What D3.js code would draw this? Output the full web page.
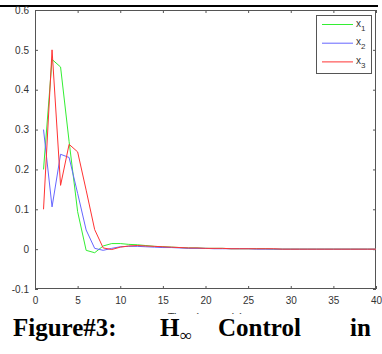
<!DOCTYPE html>
<html>
<head>
<meta charset="utf-8">
<script src="https://cdn.jsdelivr.net/npm/d3@7"></script>
<style>
	body { margin: 0; background: #fff; }
	svg { display: block; }
</style>
</head>
<body>
<div id="chart"><svg width="382" height="354"></svg></div>
<script>
// data, steps 1..40
var steps = [1,2,3,4,5,6,7,8,9,10,11,12,13,14,15,16,17,18,19,20,21,22,23,24,25,26,27,28,29,30,31,32,33,34,35,36,37,38,39,40];
var x1 = [0.2, 0.476, 0.457, 0.27, 0.094, -0.003, -0.009, 0.008, 0.014, 0.014, 0.012, 0.011, 0.009, 0.007, 0.006, 0.005, 0.004, 0.003, 0.003, 0.002, 0.002, 0.002, 0.001, 0.001, 0.001, 0.001, 0.001, 0, 0, 0, 0, 0, 0, 0, 0, 0, 0, 0, 0, 0];
var x2 = [0.3, 0.106, 0.238, 0.23, 0.14, 0.048, 0.002, -0.003, 0.002, 0.006, 0.007, 0.007, 0.006, 0.005, 0.004, 0.004, 0.003, 0.002, 0.002, 0.002, 0.001, 0.001, 0.001, 0.001, 0.001, 0, 0, 0, 0, 0, 0, 0, 0, 0, 0, 0, 0, 0, 0, 0];
var x3 = [0.1, 0.5, 0.16, 0.263, 0.244, 0.148, 0.049, 0.003, -0.001, 0.005, 0.008, 0.009, 0.008, 0.007, 0.006, 0.005, 0.004, 0.003, 0.003, 0.002, 0.002, 0.002, 0.001, 0.001, 0.001, 0.001, 0.001, 0.001, 0, 0, 0, 0, 0, 0, 0, 0, 0, 0, 0, 0];
var seriesNames = ['1', '2', '3'];
var seriesColors = ['#33ee33', '#6666ff', '#ff3333'];
var xTicks = [0, 5, 10, 15, 20, 25, 30, 35, 40];
var yTicks = [-0.1, 0, 0.1, 0.2, 0.3, 0.4, 0.5, 0.6];
var xLabel = 'Time (seconds)';
var captionWords = ['Figure#3:', 'H', 'Control', 'in'];

var svg = d3.select('#chart > svg');
var plotL = 35, plotR = 376, plotT = 10, plotB = 289;

var xScale = d3.scaleLinear().domain([0, 40]).range([plotL, plotR]);
var yScale = d3.scaleLinear().domain([-0.1, 0.6]).range([plotB, plotT]);

// black rule at the very top
svg.append('rect').attr('x', 0).attr('y', 5).attr('width', 378).attr('height', 2).attr('fill', '#000');

// axes box + inward ticks on all sides
var axisColor = '#555';
function styleAxis(g) {
	g.select('.domain').remove();
	g.selectAll('line').attr('stroke', axisColor);
	g.selectAll('text').attr('fill', '#333')
		.style('font-family', 'Liberation Sans, Arial, sans-serif').style('font-size', '10px');
}
svg.append('g').attr('transform', 'translate(0,' + plotB + ')')
	.call(d3.axisBottom(xScale).tickValues(xTicks).tickSizeInner(-3).tickSizeOuter(0).tickPadding(8))
	.call(styleAxis);
svg.append('g').attr('transform', 'translate(0,' + plotT + ')')
	.call(d3.axisTop(xScale).tickValues(xTicks).tickSizeInner(-3).tickSizeOuter(0).tickFormat(''))
	.call(styleAxis);
svg.append('g').attr('transform', 'translate(' + plotL + ',0)')
	.call(d3.axisLeft(yScale).tickValues(yTicks).tickSizeInner(-3).tickSizeOuter(0).tickPadding(6)
		.tickFormat(function(d) { return String(+d.toFixed(1)); }))
	.call(styleAxis);
svg.append('g').attr('transform', 'translate(' + plotR + ',0)')
	.call(d3.axisRight(yScale).tickValues(yTicks).tickSizeInner(-3).tickSizeOuter(0).tickFormat(''))
	.call(styleAxis);
svg.append('rect').attr('x', plotL + 0.5).attr('y', plotT + 0.5)
	.attr('width', plotR - plotL - 1).attr('height', plotB - plotT - 1)
	.attr('fill', 'none').attr('stroke', axisColor);

// lines
var line = d3.line()
	.x(function(d, i) { return xScale(steps[i]); })
	.y(function(d) { return yScale(d); });
[x1, x2, x3].forEach(function(s, i) {
	svg.append('path').datum(s).attr('d', line)
		.attr('fill', 'none').attr('stroke', seriesColors[i]).attr('stroke-width', 1);
});

// legend
var legend = svg.append('g');
legend.append('rect').attr('x', 316.5).attr('y', 15.5).attr('width', 55).attr('height', 58)
	.attr('fill', '#fff').attr('stroke', axisColor);
seriesNames.forEach(function(n, i) {
	var ly = 24.5 + i * 18.7;
	legend.append('line').attr('x1', 322).attr('x2', 353).attr('y1', ly).attr('y2', ly)
		.attr('stroke', seriesColors[i]).attr('stroke-width', 1);
	var t = legend.append('text').attr('x', 356).attr('y', ly + 2)
		.style('font-family', 'Liberation Sans, Arial, sans-serif').style('font-size', '10px').attr('fill', '#333');
	t.append('tspan').text('x');
	t.append('tspan').attr('dy', 4).style('font-size', '8px').text(n);
});

// x label, mostly hidden below the caption edge
svg.append('clipPath').attr('id', 'lblclip').append('rect')
	.attr('x', 0).attr('y', 0).attr('width', 382).attr('height', 314);
svg.append('text').attr('clip-path', 'url(#lblclip)')
	.attr('x', (plotL + plotR) / 2).attr('y', 321).attr('text-anchor', 'middle')
	.style('font-family', 'Liberation Sans, Arial, sans-serif').style('font-size', '11px').attr('fill', '#333')
	.text(xLabel);

// caption (justified line)
var capX = [13, 160, 218, 350];
var cap = svg.append('g').style('font-family', 'Liberation Serif, Times New Roman, serif')
	.style('font-weight', 'bold').style('font-size', '25px').attr('fill', '#000');
captionWords.forEach(function(w, i) {
	cap.append('text').attr('x', capX[i]).attr('y', 336).text(w);
	if (w === 'H') {
		cap.append('text').attr('x', capX[i] + 20).attr('y', 341)
			.style('font-weight', 'normal').style('font-size', '17px').text('\u221e');
	}
});
</script>
</body>
</html>
